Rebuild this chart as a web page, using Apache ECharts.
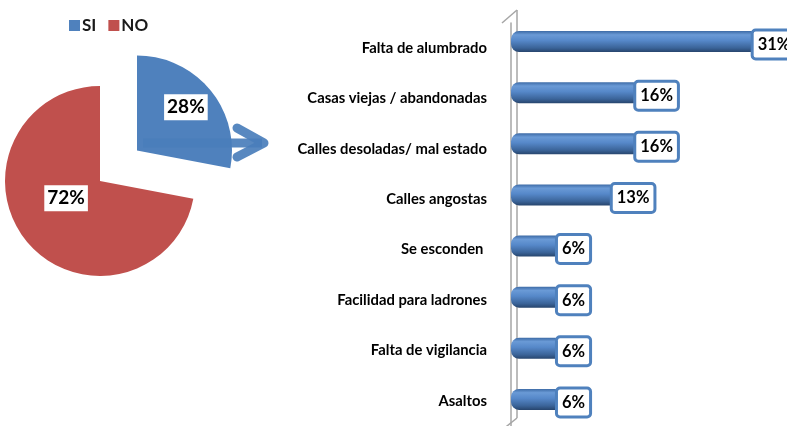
<!DOCTYPE html>
<html>
<head>
<meta charset="utf-8">
<script src="https://cdn.jsdelivr.net/npm/echarts@6/dist/echarts.min.js"></script>
<style>html,body{margin:0;padding:0;background:#fff}#c{width:787px;height:426px}</style>
</head>
<body>
<div id="c"></div>
<script>
const pieNames = ['SI', 'NO'];
const pieValues = [28, 72];
const pieColors = ['#4F81BD', '#C0504D'];
const categories = ['Falta de alumbrado', 'Casas viejas / abandonadas', 'Calles desoladas/ mal estado', 'Calles angostas', 'Se esconden ', 'Facilidad para ladrones', 'Falta de vigilancia', 'Asaltos'];
const barValues = [31, 16, 16, 13, 6, 6, 6, 6];

const FONT = 'Lato';
const chart = echarts.init(document.getElementById('c'), null, {renderer: 'canvas'});
const barGrad = new echarts.graphic.LinearGradient(0, 0, 0, 1, [
  {offset: 0, color: '#3d6ba6'},
  {offset: 0.18, color: '#6a9ad6'},
  {offset: 0.45, color: '#5688c9'},
  {offset: 0.8, color: '#3b6499'},
  {offset: 1, color: '#27456d'}
]);
const wall = '#a6a6a6';
chart.setOption({
  animation: false,
  legend: {
    left: 64, top: 12, itemWidth: 11, itemHeight: 11, itemGap: 12, icon: 'rect',
    selectedMode: false,
    textStyle: {fontFamily: FONT, fontWeight: 'bold', fontSize: 17, color: '#1a1a1a', padding: [0, 0, 0, -3]},
    data: pieNames
  },
  grid: [
    {left: 511, top: 23, width: 274, height: 409},
    {left: 511, top: 16, width: 274, height: 409}
  ],
  xAxis: [
    {gridIndex: 0, type: 'value', min: 0, max: 35, show: false},
    {gridIndex: 1, type: 'value', min: 0, max: 35, show: false}
  ],
  yAxis: [
    {
      gridIndex: 0, type: 'category', inverse: true, data: categories, offset: 9,
      axisLine: {show: true, lineStyle: {color: wall, width: 1.5}},
      axisTick: {show: false},
      axisLabel: {margin: 15, fontFamily: FONT, fontWeight: 'bold', fontSize: 14.8, color: '#000'}
    },
    {gridIndex: 1, type: 'category', inverse: true, data: categories, show: false}
  ],
  series: [
    {
      type: 'pie',
      center: [100, 181],
      radius: 95,
      startAngle: 90,
      selectedMode: 'single',
      selectedOffset: 48,
      label: {
        position: 'inside', formatter: '{c}%',
        fontFamily: FONT, fontWeight: 'bold', fontSize: 19, color: '#000',
        backgroundColor: '#fff', padding: [4, 3, 3, 3]
      },
      labelLayout: function (p) { return p.dataIndex === 0 ? {dx: 10, dy: -11} : {dx: 5, dy: -15}; },
      labelLine: {show: false},
      emphasis: {disabled: true},
      data: pieNames.map((n, i) => ({name: n, value: pieValues[i], selected: i === 0, itemStyle: {color: pieColors[i]}}))
    },
    {
      type: 'bar',
      xAxisIndex: 1, yAxisIndex: 1,
      data: barValues,
      barWidth: 21,
      itemStyle: {color: barGrad, borderRadius: [8, 3, 3, 8]},
      label: {
        show: true, position: 'right', distance: 0, offset: [0, 3],
        formatter: '{c}%',
        fontFamily: FONT, fontWeight: 'bold', fontSize: 16.5, color: '#000',
        backgroundColor: '#fff', borderColor: '#4F81BD', borderWidth: 3, borderRadius: 2,
        padding: [5, 4, 4, 4]
      },
      emphasis: {disabled: true}
    }
  ],
  graphic: [
    {type: 'line', z: 0, shape: {x1: 502, y1: 23, x2: 517, y2: 10}, style: {stroke: wall, lineWidth: 1.5}},
    {type: 'line', z: 0, shape: {x1: 517, y1: 10, x2: 517, y2: 418}, style: {stroke: wall, lineWidth: 1.5}},
    {type: 'line', z: 0, shape: {x1: 517, y1: 418, x2: 502, y2: 430}, style: {stroke: wall, lineWidth: 1.5}},
    {type: 'line', z: 10, shape: {x1: 143, y1: 143, x2: 262, y2: 143}, style: {stroke: '#4A7EBB', lineWidth: 9, opacity: 0.92}},
    {type: 'polyline', z: 10, shape: {points: [[237, 128], [264, 143], [237, 157]]}, style: {stroke: '#4A7EBB', lineWidth: 9, lineCap: 'round', lineJoin: 'round', fill: null, opacity: 0.92}}
  ]
});
</script>
</body>
</html>
